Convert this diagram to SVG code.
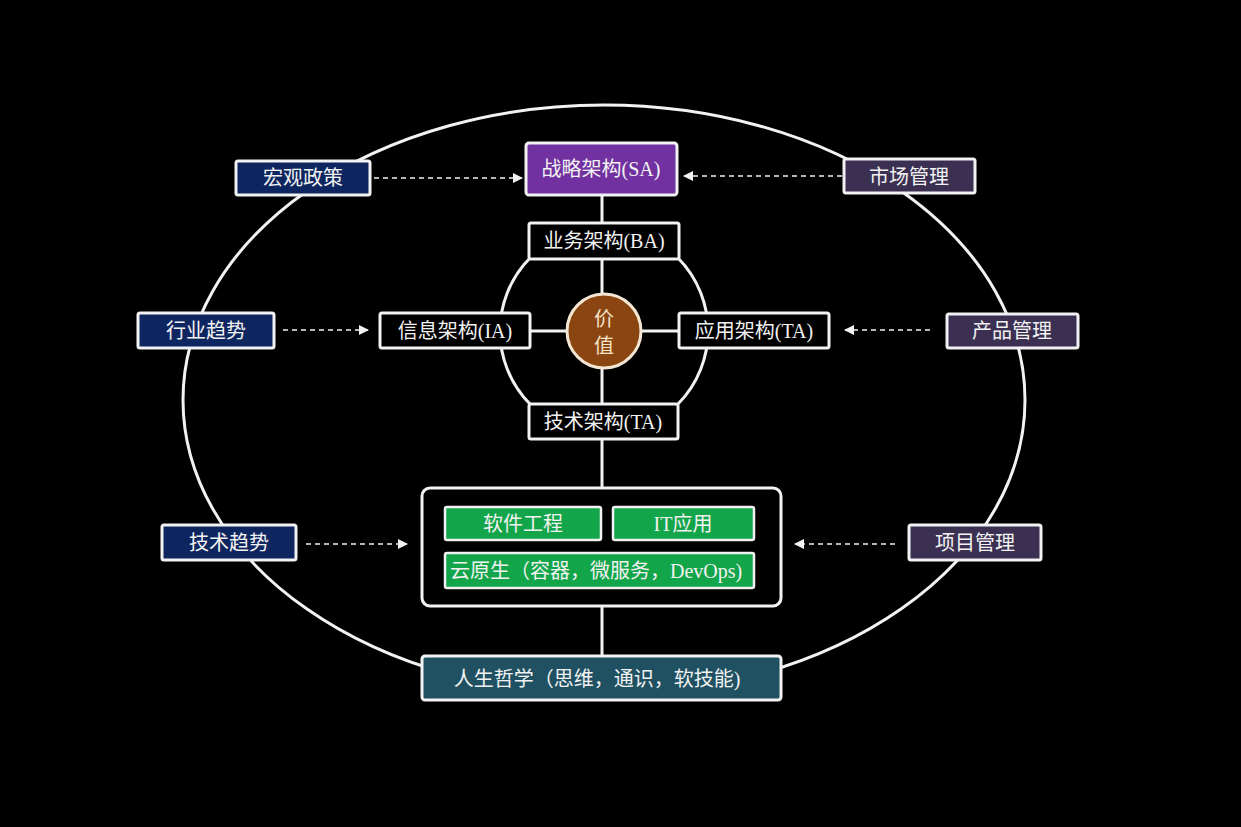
<svg xmlns="http://www.w3.org/2000/svg" width="1241" height="827" viewBox="0 0 1241 827">
<defs>
<marker id="ah" viewBox="0 0 10 10" refX="9" refY="5" markerWidth="10" markerHeight="10" markerUnits="userSpaceOnUse" orient="auto">
<path d="M0,0 L10,5 L0,10 z" fill="#f2f2f2"/>
</marker>
<style>
text{font-family:"Liberation Serif","Noto Sans CJK SC",serif;fill:#f2f2f2;font-size:20px;text-anchor:middle;dominant-baseline:central}
.b{stroke:#f2f2f2;stroke-width:3}
.k{fill:#000}
.navy{fill:#0e2660}
.pur{fill:#3b2f52}
.sa{fill:#7131a1}
.grn{fill:#12a54a;stroke:#f2f2f2;stroke-width:2.5}
.teal{fill:#1f5162}
.ln{stroke:#f2f2f2;stroke-width:3;fill:none}
.da{stroke:#f2f2f2;stroke-width:1.5;stroke-dasharray:5 4;fill:none;marker-end:url(#ah)}
</style>
</defs>
<rect width="1241" height="827" fill="#000"/>
<g id="connectors">
<ellipse cx="604" cy="400" rx="421" ry="295" class="ln"/>
<circle cx="604" cy="331" r="104" class="ln"/>
<line x1="602" y1="195" x2="602" y2="223" class="ln"/>
<line x1="602" y1="259" x2="602" y2="404" class="ln"/>
<line x1="530" y1="331" x2="679" y2="331" class="ln"/>
<line x1="602" y1="439" x2="602" y2="488" class="ln"/>
<line x1="602" y1="606" x2="602" y2="656" class="ln"/>
<line x1="374" y1="178" x2="522" y2="178" class="da"/>
<line x1="842" y1="176" x2="684" y2="176" class="da"/>
<line x1="283" y1="330" x2="368" y2="330" class="da"/>
<line x1="930" y1="330" x2="845" y2="330" class="da"/>
<line x1="306" y1="544" x2="407" y2="544" class="da"/>
<line x1="895" y1="544" x2="795" y2="544" class="da"/>
</g>
<g id="sa"><rect x="526" y="143" width="151" height="52" rx="3" class="b sa"/><text x="601" y="169">战略架构(SA)</text></g>
<g id="ba"><rect x="529" y="223" width="150" height="36" rx="2" class="b k"/><text x="604" y="241">业务架构(BA)</text></g>
<g id="ia"><rect x="380" y="313" width="150" height="35" rx="2" class="b k"/><text x="455" y="331">信息架构(IA)</text></g>
<g id="aa"><rect x="679" y="313" width="150" height="35" rx="2" class="b k"/><text x="754" y="331">应用架构(TA)</text></g>
<g id="ta"><rect x="529" y="404" width="149" height="35" rx="2" class="b k"/><text x="603" y="422">技术架构(TA)</text></g>
<g id="value"><circle cx="604" cy="331" r="37" fill="#8b4511" stroke="#f3e6d2" stroke-width="3"/><text x="604" y="319" font-size="22" style="fill:#f5e3c8">价</text><text x="604" y="346" font-size="22" style="fill:#f5e3c8">值</text></g>
<g id="macro"><rect x="236" y="161" width="134" height="34" rx="2" class="b navy"/><text x="303" y="178">宏观政策</text></g>
<g id="industry"><rect x="138" y="313" width="136" height="35" rx="2" class="b navy"/><text x="206" y="331">行业趋势</text></g>
<g id="techtrend"><rect x="162" y="525" width="134" height="35" rx="2" class="b navy"/><text x="229" y="543">技术趋势</text></g>
<g id="market"><rect x="844" y="159" width="131" height="34" rx="2" class="b pur"/><text x="909" y="177">市场管理</text></g>
<g id="product"><rect x="947" y="314" width="131" height="34" rx="2" class="b pur"/><text x="1012" y="331">产品管理</text></g>
<g id="project"><rect x="909" y="525" width="132" height="35" rx="2" class="b pur"/><text x="975" y="543">项目管理</text></g>
<g id="container"><rect x="422" y="488" width="359" height="118" rx="8" class="b k"/></g>
<g id="se"><rect x="445" y="507" width="156" height="33" rx="2" class="grn"/><text x="523" y="524">软件工程</text></g>
<g id="it"><rect x="613" y="507" width="141" height="33" rx="2" class="grn"/><text x="683" y="524">IT应用</text></g>
<g id="cloud"><rect x="445" y="553" width="309" height="35" rx="2" class="grn"/><text x="450" y="571" style="text-anchor:start">云原生（容器，微服务，DevOps)</text></g>
<g id="life"><rect x="422" y="656" width="359" height="44" rx="3" class="b teal"/><text x="597" y="679" font-size="22">人生哲学（思维，通识，软技能)</text></g>
</svg>
